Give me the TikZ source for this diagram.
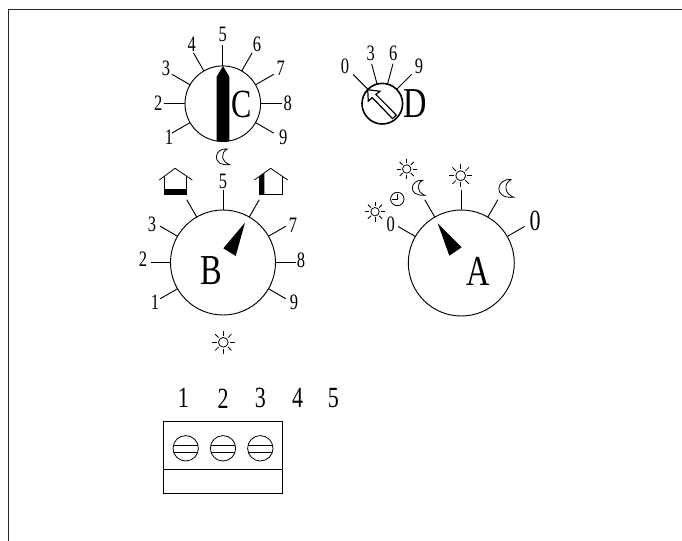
\documentclass[tikz,border=0pt]{standalone}
\usepackage{fontspec}
\setmainfont{Liberation Serif}
\usetikzlibrary{calc}
\begin{document}
\begin{tikzpicture}[x=0.75pt,y=-0.75pt,line cap=butt,
  dial/.style={draw=black,line width=0.7pt},
  spoke/.style={draw=black,line width=0.7pt},
  thin part/.style={draw=black,line width=0.6pt},
  solid mark/.style={fill=black,draw=none},
  lab/.style={inner sep=0pt,xscale=0.75,font=\fontsize{16.5}{17}\selectfont},
  lab big/.style={inner sep=0pt,xscale=0.75,font=\fontsize{22}{22}\selectfont},
  lab huge/.style={inner sep=0pt,xscale=0.76,font=\fontsize{32}{32}\selectfont}]
\newcommand{\dialmoon}[3]{\begin{scope}[shift={(#1,#2)},x=#3*0.75pt,y=-#3*0.75pt]
  \draw[thin part] (0.28,-0.48) .. controls (-0.5,-0.6) and (-0.8,0.6) .. (0.44,0.5) .. controls (-0.1,0.3) and (-0.15,-0.25) .. cycle;
  \end{scope}}
\newcommand{\dialsun}[3]{\begin{scope}[shift={(#1,#2)},x=#3*0.75pt,y=#3*0.75pt]
  \draw[thin part] (0,0) circle[radius=0.42];
  \foreach \a in {0,45,...,315}{\draw[thin part] (\a:0.58) -- (\a:1);}
  \end{scope}}
\useasboundingbox (0,0) rectangle (682,541);
\fill[white] (0,0) rectangle (682,541);
% frame
\coordinate (fl) at (8.5,541); \coordinate (fc) at (8.5,10); \coordinate (fr) at (682,10);
\draw[line width=0.75pt,black!85] (fl) -- (fc) -- (fr);

% Dial C
\coordinate (C) at (222.8,103.7);
\foreach \a in {90,120,150,180,210,30,0,-30,60}{\draw[spoke] (C) ++(-\a:37.8) -- ++(-\a:21);}
\draw[dial] (C) circle[radius=37.8];
\fill[solid mark] (216.7,141.4) -- (216.7,76.7) -- (223,66) -- (229.3,76.7) -- (229.3,141.4) -- cycle;
\node[lab huge,font=\fontsize{30}{30}\selectfont] (cC) at (241.7,104) {C};
\node[lab] (c5) at (222.7,34) {5};
\node[lab] (c4) at (191.7,44.3) {4};
\node[lab] (c6) at (257,44.3) {6};
\node[lab] (c3) at (166,68.3) {3};
\node[lab] (c7) at (280.7,68.3) {7};
\node[lab] (c2) at (158.3,103.3) {2};
\node[lab] (c8) at (287.7,103.3) {8};
\node[lab] (c1) at (169,137.7) {1};
\node[lab] (c9) at (283.3,137.7) {9};
\dialmoon{222.7}{156.7}{16}

% Dial D
\coordinate (D) at (382.3,103.7);
\foreach \a in {135,105,75,45}{\draw[spoke] (D) ++(-\a:20.3) -- ++(-\a:21);}
\draw[line width=1.2pt] (D) circle[radius=20.3];
\draw[line width=0.9pt] (367.7,89.7) -- (368.3,101.3) -- (372.2,97.6) -- (392.5,118.6) -- (396.3,115) -- (375.8,94.4) -- (380,91.3) -- cycle;
\node[lab huge,font=\fontsize{32}{32}\selectfont] (dD) at (415.5,104) {D};
\node[lab] (d0) at (345,66.7) {0};
\node[lab] (d3) at (370.7,53.3) {3};
\node[lab] (d6) at (393.3,53.3) {6};
\node[lab] (d9) at (419,66.7) {9};

% Dial B
\coordinate (B) at (223,262.5);
\foreach \a in {90,120,60,150,30,180,0,210,-30}{\draw[spoke] (B) ++(-\a:52.5) -- ++(-\a:20);}
\draw[dial] (B) circle[radius=52.5];
\fill[solid mark] (245,222.7) -- (223.3,248.3) -- (235.7,256) -- cycle;
\node[lab huge] (bB) at (211.7,271) {B};
\node[lab] (b5) at (223,181) {5};
\node[lab] (b3) at (152,224) {3};
\node[lab] (b2) at (143,259) {2};
\node[lab] (b1) at (155,302.7) {1};
\node[lab] (b7) at (293,225) {7};
\node[lab] (b8) at (301,260) {8};
\node[lab] (b9) at (294,302.7) {9};
\draw[thin part] (159.3,180) -- (175,168.3) -- (192.3,180);
\draw[thin part] (164.3,176.5) -- (164.3,194.3) -- (186.7,194.3) -- (186.7,176);
\fill[solid mark] (164,189.3) rectangle (187,194.6);
\draw[thin part] (254.3,180) -- (270.7,168.3) -- (287.7,180);
\draw[thin part] (259.3,176.5) -- (259.3,194.3) -- (282.7,194.3) -- (282.7,176);
\fill[solid mark] (259,176.6) -- (264.3,172.8) -- (264.3,194.6) -- (259,194.6) -- cycle;
\dialsun{223.3}{342.3}{11.5}

% Dial A
\coordinate (A) at (461.3,263);
\foreach \a in {90,120,60,150,30}{\draw[spoke] (A) ++(-\a:53) -- ++(-\a:20);}
\draw[dial] (A) circle[radius=53];
\fill[solid mark] (437.7,223.3) -- (461.7,247.3) -- (449.3,255.7) -- cycle;
\node[lab huge] (aA) at (478.3,271) {A};
\node[lab] (a0) at (390.7,224) {0};
\node[lab,font=\fontsize{22}{22}\selectfont] (a0r) at (535,220.7) {0};
\dialsun{460.7}{175.7}{11.7}
\dialsun{406.7}{169}{10}
\dialsun{375}{211.7}{10}
\dialmoon{418.3}{187.7}{15}
\dialmoon{506}{188.3}{18}
\coordinate (clk) at (397.3,199);
\draw[thin part] (clk) circle[radius=6.7];
\draw[thin part] ($(clk)+(0,-5)$) -- (clk) -- ($(clk)+(-5,0)$);

% Terminal block
\draw[thin part] (163.7,421.3) rectangle (282.7,493.3);
\draw[thin part] (163.7,469) -- (282.7,469);
\foreach \x in {185.7,223,260.3}{
  \draw[thin part] (\x,448.3) circle[radius=12.7];
  \draw[thin part] (\x-12,445) -- (\x+12,445);
  \draw[thin part] (\x-12,452.3) -- (\x+12,452.3);
}
\node[lab big] (t1) at (183.3,398.3) {1};
\node[lab big] (t2) at (223,398.3) {2};
\node[lab big] (t3) at (260.3,398.3) {3};
\node[lab big] (t4) at (297.7,398.3) {4};
\node[lab big] (t5) at (333.3,398.3) {5};
\end{tikzpicture}
\end{document}
